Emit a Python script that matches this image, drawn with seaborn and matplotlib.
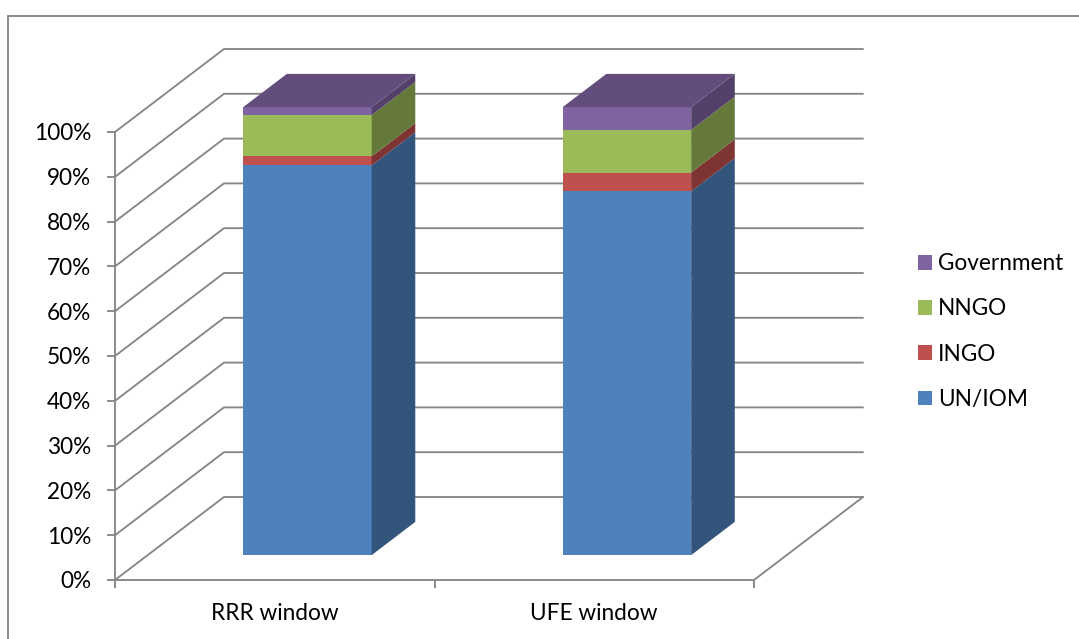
import matplotlib
matplotlib.use("Agg")
import matplotlib.pyplot as plt
from matplotlib.lines import Line2D
from matplotlib.patches import Patch
from matplotlib.transforms import Affine2D
from matplotlib.colors import to_rgb
import numpy as np
import pandas as pd
import seaborn as sns

# Funding share by recipient type, in percent
windows = ["RRR window", "UFE window"]
un_iom = [87.0, 81.2]
ingo = [2.0, 4.2]
nngo = [9.2, 9.5]
government = [1.8, 5.1]

series_names = ["UN/IOM", "INGO", "NNGO", "Government"]
series_values = [un_iom, ingo, nngo, government]
series_colors = ["#4F81BD", "#C0504D", "#9BBB59", "#8064A2"]
percent_ticks = list(range(0, 101, 10))

GRID = "#868686"
LINE_W = 1.35
SIDE_SHADE = 0.65
TOP_SHADE = 0.77
BAR_WIDTH = 0.402
# Oblique projection: how far one unit of depth moves a point, in data units
DX = 109 / 319.5
DY = 83 / 4.48
BAR_NEAR, BAR_FAR = 0.30, 0.70
FONT_SIZE = 16.3

W, H = 1079, 639
sns.set_theme(style="white")
plt.rcParams["font.family"] = ["Lato", "DejaVu Sans"]
fig = plt.figure(figsize=(W / 100, H / 100), dpi=100, facecolor="white")
ax = fig.add_axes([115 / W, (H - 580) / H, (754 - 115) / W, (580 - 132) / H])

cumulative = np.cumsum(np.array(series_values), axis=0)

# Front faces: tallest stack first, so each lower segment paints over it
for name, cum, color in reversed(list(zip(series_names, cumulative, series_colors))):
    frame = pd.DataFrame({"window": windows, "share": cum})
    sns.barplot(data=frame, x="window", y="share", color=color, saturation=1,
                width=BAR_WIDTH, ax=ax, zorder=3)

near_shift = Affine2D().translate(BAR_NEAR * DX, BAR_NEAR * DY) + ax.transData
for bar in ax.patches:
    bar.set_transform(near_shift)
    bar.set_clip_on(False)
    bar.set_linewidth(0)

ax.set_xlim(-0.5, 1.5)
ax.set_ylim(0, 100)


def project(x, value, depth):
    return x + depth * DX, value + depth * DY


def shade(color, factor):
    return tuple(c * factor for c in to_rgb(color))


# Receding side and top faces of each stack
for i in range(len(windows)):
    right = i + BAR_WIDTH / 2
    left = i - BAR_WIDTH / 2
    floor = 0.0
    for cum_row, color in zip(cumulative, series_colors):
        ceil = cum_row[i]
        corners = [project(right, floor, BAR_NEAR), project(right, floor, BAR_FAR),
                   project(right, ceil, BAR_FAR), project(right, ceil, BAR_NEAR)]
        ax.fill(*zip(*corners), color=shade(color, SIDE_SHADE), lw=0, zorder=3, clip_on=False)
        floor = ceil
    corners = [project(left, floor, BAR_NEAR), project(right, floor, BAR_NEAR),
               project(right, floor, BAR_FAR), project(left, floor, BAR_FAR)]
    ax.fill(*zip(*corners), color=shade(series_colors[-1], TOP_SHADE), lw=0, zorder=3, clip_on=False)

# Gridlines climb the side wall and then run across the back wall
for pct in percent_ticks:
    xs, ys = zip(project(-0.5, pct, 0), project(-0.5, pct, 1), project(1.5, pct, 1))
    ax.plot(xs, ys, color=GRID, lw=LINE_W, zorder=1, clip_on=False, solid_joinstyle="miter")
xs, ys = zip(project(1.5, 0, 0), project(1.5, 0, 1))
ax.plot(xs, ys, color=GRID, lw=LINE_W, zorder=1, clip_on=False)

# Axes
sns.despine(ax=ax)
for side in ("left", "bottom"):
    ax.spines[side].set_color(GRID)
    ax.spines[side].set_linewidth(LINE_W)
ax.set_xlabel("")
ax.set_ylabel("")
ax.set_yticks(percent_ticks, labels=[f"{p}%" for p in percent_ticks])
ax.set_xticks([-0.5, 0.5, 1.5], labels=["", "", ""])
ax.set_xticks([0, 1], labels=windows, minor=True)
ax.tick_params(axis="y", which="major", left=True, length=6, width=LINE_W, color=GRID,
               labelsize=FONT_SIZE, labelcolor="black", pad=11)
ax.tick_params(axis="x", which="major", bottom=True, length=6, width=LINE_W, color=GRID)
ax.tick_params(axis="x", which="minor", bottom=False, length=0, labelsize=FONT_SIZE,
               labelcolor="black", pad=16.5)

# Legend, newest series on top
handles = [Patch(facecolor=c, edgecolor="none", label=n)
           for n, c in zip(series_names[::-1], series_colors[::-1])]
px = FONT_SIZE * 100 / 72
leg = fig.legend(handles=handles, loc="center left", bbox_to_anchor=(918 / W, (H - 331.5) / H),
                 frameon=False, fontsize=FONT_SIZE, handlelength=14 / px, handleheight=14 / px,
                 handletextpad=6 / px, labelspacing=1.07, borderpad=0, borderaxespad=0,
                 labelcolor="black")

# Chart-area border, open to the right and bottom
fig.add_artist(Line2D([8 / W, 8 / W, 1.0], [0, (H - 15.5) / H, (H - 15.5) / H],
                      color=GRID, lw=LINE_W, transform=fig.transFigure,
                      solid_joinstyle="miter"))

fig.savefig("out.png", dpi=100, facecolor="white")
